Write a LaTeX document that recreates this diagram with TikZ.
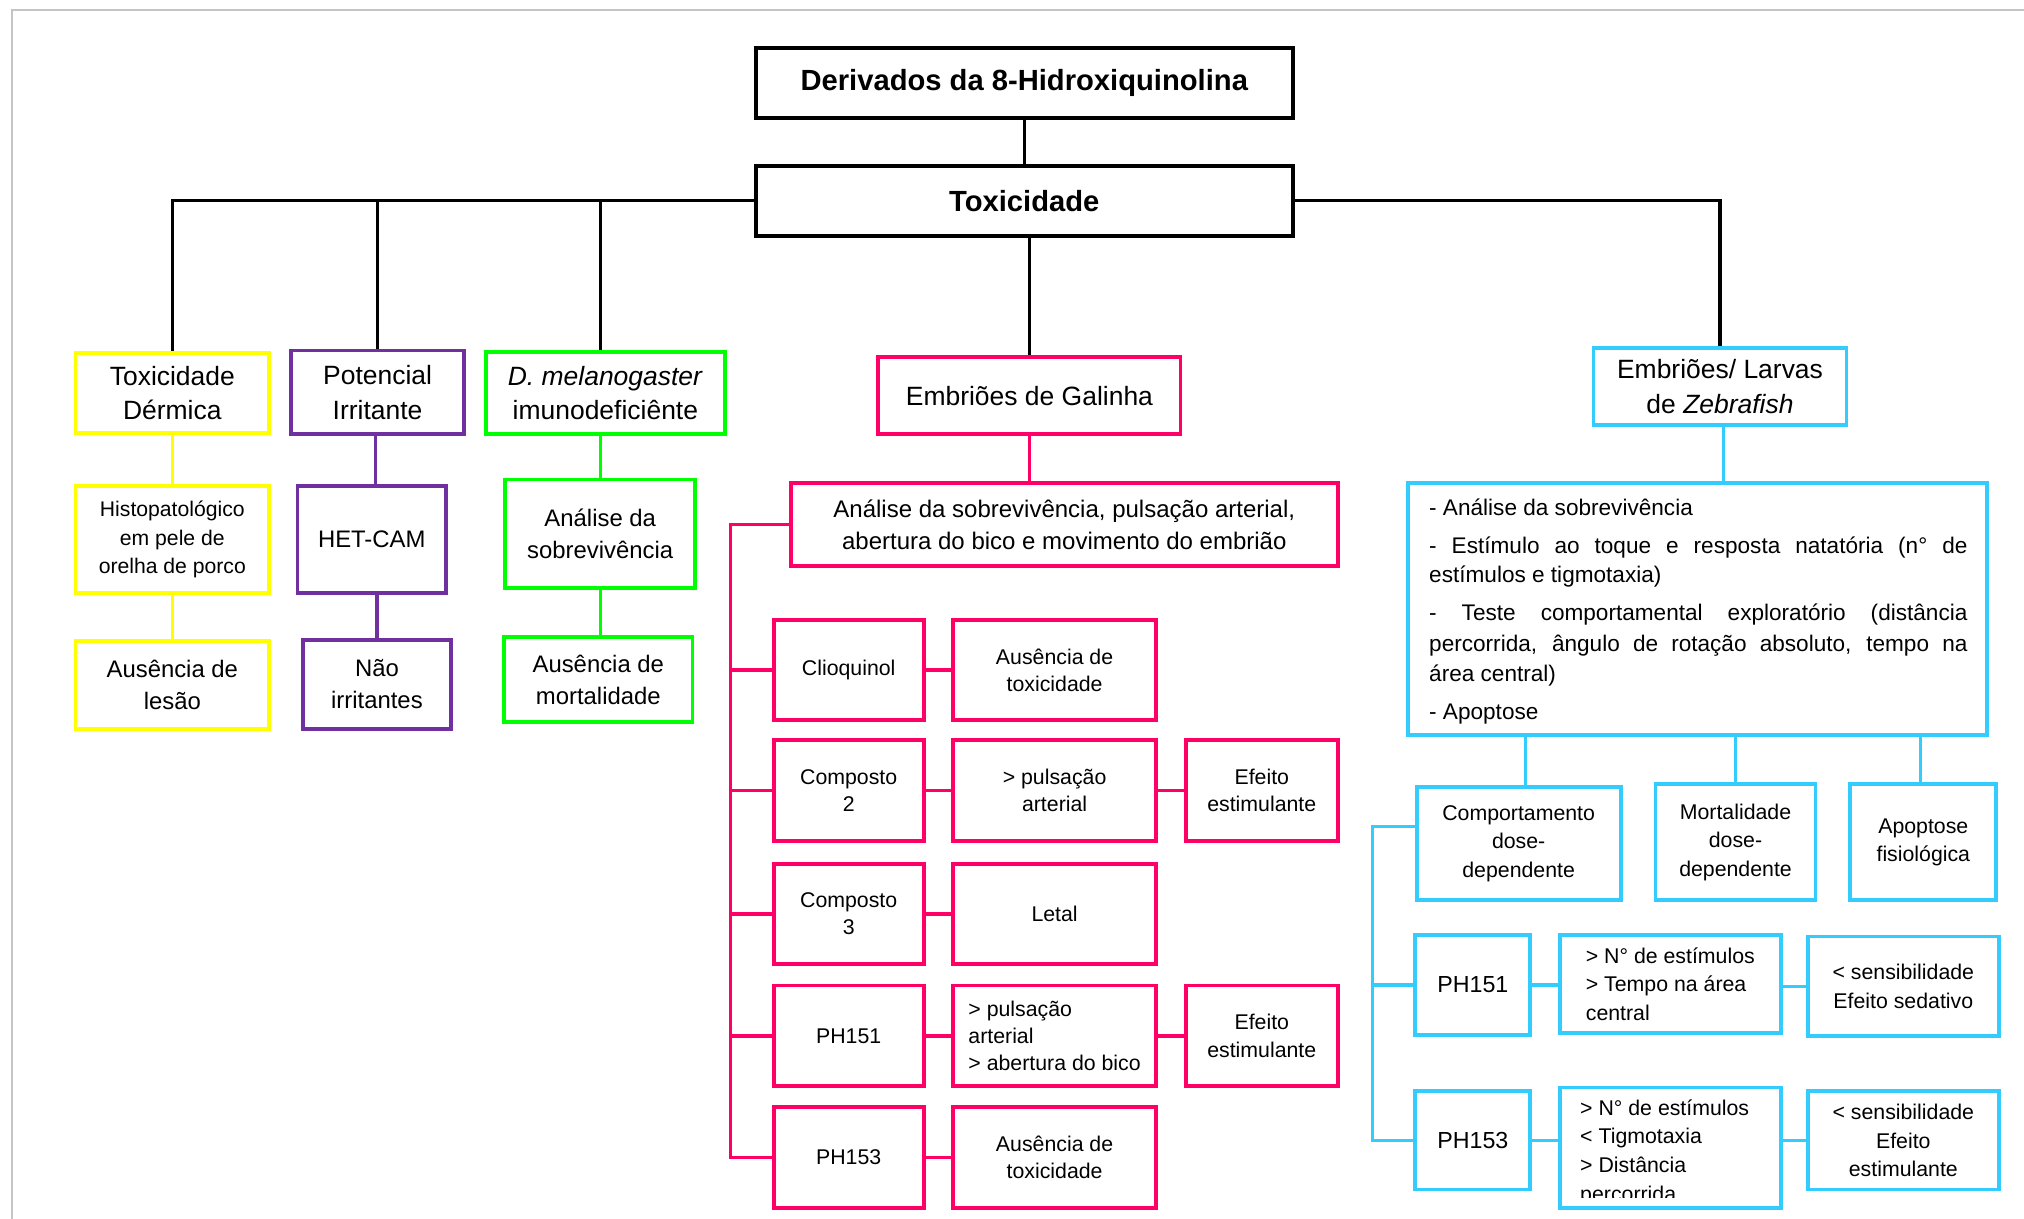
\documentclass[tikz,border=0pt]{standalone}
\usepackage{fontspec}
\setmainfont{Liberation Sans}
\newcommand{\fsz}[2]{\fontsize{#1pt}{#2pt}\selectfont}
\definecolor{cyel}{HTML}{FFFF00}
\definecolor{cpur}{HTML}{7030A0}
\definecolor{cgrn}{HTML}{00FF00}
\definecolor{cpnk}{HTML}{FF0066}
\definecolor{ccyn}{HTML}{33CCFF}
\definecolor{cgry}{HTML}{C4C4C4}
\begin{document}
\begin{tikzpicture}[x=1pt,y=-1pt,
  box/.style={draw, line width=3pt, inner sep=0pt, align=center},
  kbox/.style={box, draw=black, font=\fsz{22.6}{28}\bfseries},
  ybox/.style={box, draw=cyel},
  ubox/.style={box, draw=cpur},
  gbox/.style={box, draw=cgrn},
  pbox/.style={box, draw=cpnk, font=\fsz{16.5}{21}},
  cbox/.style={box, draw=ccyn, font=\fsz{16.5}{22}},
  lvone/.style={font=\fsz{20.5}{27}},
  lvtwo/.style={font=\fsz{18.5}{25}},
  conn/.style={line width=2.5pt},
  kconn/.style={conn, draw=black},
  yconn/.style={conn, draw=cyel},
  uconn/.style={conn, draw=cpur},
  gconn/.style={conn, draw=cgrn},
  pconn/.style={conn, draw=cpnk},
  cconn/.style={conn, draw=ccyn},
  ltxt/.style={anchor=base west, inner sep=0pt, font=\fsz{17.5}{23}},
  mtxt/.style={anchor=base west, inner sep=0pt, font=\fsz{16.5}{22}},
]
\useasboundingbox (0,0) rectangle (1568,944);
\draw[cgry, line width=1.5pt] (9,944) -- (9,8) -- (1568,8);

% top
\node[kbox, minimum width=416pt, minimum height=54pt] (der) at (793.5,64.5) {Derivados da 8-Hidroxiquinolina};
\node[kbox, minimum width=416pt, minimum height=54pt] (tox) at (793.5,155.5) {Toxicidade};

% yellow
\node[ybox, lvone, minimum width=150pt, minimum height=62pt] (td) at (133.5,304.5) {Toxicidade\\Dérmica};
\node[ybox, font=\fsz{16.4}{22}, minimum width=150pt, minimum height=83pt] (hist) at (133.5,418) {Histopatológico\\em pele de\\orelha de porco};
\node[ybox, lvtwo, minimum width=150pt, minimum height=68pt] (ausl) at (133.5,530.5) {Ausência de\\lesão};

% purple
\node[ubox, lvone, minimum width=134pt, minimum height=65pt] (pot) at (292.5,304) {Potencial\\Irritante};
\node[ubox, lvtwo, minimum width=115pt, minimum height=83pt] (het) at (288,418) {HET-CAM};
\node[ubox, lvtwo, minimum width=115pt, minimum height=69pt] (nao) at (292,530) {Não\\irritantes};

% green
\node[gbox, lvone, minimum width=185pt, minimum height=64pt] (dmel) at (469,304.5) {\textit{D. melanogaster}\\imunodeficiênte};
\node[gbox, lvtwo, minimum width=147pt, minimum height=84pt] (ana) at (465,413.5) {Análise da\\sobrevivência};
\node[gbox, lvtwo, minimum width=146pt, minimum height=66pt] (ausm) at (463.5,526.5) {Ausência de\\mortalidade};

% pink
\node[pbox, lvone, minimum width=234pt, minimum height=60pt] (emb) at (797.5,306.5) {Embriões de Galinha};
\node[pbox, font=\fsz{18.6}{25}, minimum width=424pt, minimum height=64pt] (anp) at (824.5,406.5) {Análise da sobrevivência, pulsação arterial,\\abertura do bico e movimento do embrião};

\node[pbox, minimum width=116pt, minimum height=77pt] (r1a) at (657.5,519) {Clioquinol};
\node[pbox, minimum width=157pt, minimum height=77pt] (r1b) at (817,519) {Ausência de\\toxicidade};

\node[pbox, minimum width=116pt, minimum height=78pt] (r2a) at (657.5,612.5) {Composto\\2};
\node[pbox, minimum width=157pt, minimum height=78pt] (r2b) at (817,612.5) {> pulsação\\arterial};
\node[pbox, minimum width=118pt, minimum height=78pt] (r2c) at (977.5,612.5) {Efeito\\estimulante};

\node[pbox, minimum width=116pt, minimum height=77pt] (r3a) at (657.5,708) {Composto\\3};
\node[pbox, minimum width=157pt, minimum height=77pt] (r3b) at (817,708) {Letal};

\node[pbox, minimum width=116pt, minimum height=78pt] (r4a) at (657.5,802.5) {PH151};
\node[pbox, align=left, minimum width=157pt, minimum height=78pt] (r4b) at (817,802.5) {> pulsação\\arterial\\> abertura do bico};
\node[pbox, minimum width=118pt, minimum height=78pt] (r4c) at (977.5,802.5) {Efeito\\estimulante};

\node[pbox, minimum width=116pt, minimum height=78pt] (r5a) at (657.5,896.5) {PH153};
\node[pbox, minimum width=157pt, minimum height=78pt] (r5b) at (817,896.5) {Ausência de\\toxicidade};

% cyan
\node[cbox, lvone, minimum width=196pt, minimum height=60pt] (zeb) at (1332.5,299.5) {Embriões/ Larvas\\de \textit{Zebrafish}};
\node[cbox, minimum width=449pt, minimum height=195pt] (list) at (1315,472) {};
\node[ltxt] (l1) at (1107,399.6) {- Análise da sobrevivência};
\node[ltxt] (l2) at (1107,428.5) {\makebox[417pt][s]{- Estímulo ao toque e resposta natatória (n° de}};
\node[ltxt] (l3) at (1107,451.2) {estímulos e tigmotaxia)};
\node[ltxt] (l4) at (1107,481) {\makebox[417pt][s]{- Teste comportamental exploratório (distância}};
\node[ltxt] (l5) at (1107,504.5) {\makebox[417pt][s]{percorrida, ângulo de rotação absoluto, tempo na}};
\node[ltxt] (l6) at (1107,527.8) {área central)};
\node[ltxt] (l7) at (1107,557.5) {- Apoptose};

\node[cbox, minimum width=158pt, minimum height=88pt] (comp) at (1176.5,653.5) {Comportamento\\dose-\\dependente};
\node[cbox, minimum width=124pt, minimum height=90pt] (mort) at (1344.5,652.5) {Mortalidade\\dose-\\dependente};
\node[cbox, minimum width=113pt, minimum height=90pt] (apo) at (1490,652.5) {Apoptose\\fisiológica};

\node[cbox, font=\fsz{18}{22}, minimum width=89pt, minimum height=77pt] (p151) at (1141,763) {PH151};
\node[cbox, align=left, minimum width=171pt, minimum height=76pt] (m151) at (1294,762.5) {> N° de estímulos\\> Tempo na área\\central};
\node[cbox, minimum width=148pt, minimum height=77pt] (r151) at (1474.5,764) {< sensibilidade\\Efeito sedativo};

\node[cbox, font=\fsz{18}{22}, minimum width=89pt, minimum height=76pt] (p153) at (1141,883.5) {PH153};
\node[cbox, minimum width=171pt, minimum height=93pt] (m153) at (1294,889) {};
\begin{scope}
\clip (1210,843) rectangle (1378,928);
\node[mtxt] (m153a) at (1224,864) {> N° de estímulos};
\node[mtxt] (m153b) at (1224,886) {< Tigmotaxia};
\node[mtxt] (m153c) at (1224,908) {> Distância};
\node[mtxt] (m153d) at (1224,930.5) {percorrida};
\end{scope}
\node[cbox, minimum width=148pt, minimum height=76pt] (r153) at (1474.5,883.5) {< sensibilidade\\Efeito\\estimulante};

% black connectors
\draw[kconn] (der.south) -- (tox.north);
\draw[kconn] (tox.west) -| (td.north);
\draw[kconn] (tox.west) -| (pot.north);
\draw[kconn] ([xshift=-4pt]tox.west) -| ([xshift=-4pt]dmel.north);
\draw[kconn] (tox.south -| emb.north) -- (emb.north);
\draw[kconn] (tox.east) -| (zeb.north);

% yellow
\draw[yconn] (td.south) -- (hist.north);
\draw[yconn] (hist.south) -- (ausl.north);
% purple
\draw[uconn] ([xshift=-1.5pt]pot.south) -- ([xshift=-1.5pt]pot.south |- het.north);
\draw[uconn] (nao.north |- het.south) -- (nao.north);
% green
\draw[gconn] (ana.north |- dmel.south) -- (ana.north);
\draw[gconn] (ana.south) -- (ana.south |- ausm.north);

% pink
\coordinate (pt) at (566,406.5);
\draw[pconn] (emb.south) -- (emb.south |- anp.north);
\draw[pconn] (anp.west) -- (pt) |- (r5a.west);
\draw[pconn] (r1a.west -| pt) -- (r1a.west);
\draw[pconn] (r2a.west -| pt) -- (r2a.west);
\draw[pconn] (r3a.west -| pt) -- (r3a.west);
\draw[pconn] (r4a.west -| pt) -- (r4a.west);
\draw[pconn] (r1a.east) -- (r1b.west);
\draw[pconn] (r2a.east) -- (r2b.west);
\draw[pconn] (r2b.east) -- (r2c.west);
\draw[pconn] (r3a.east) -- (r3b.west);
\draw[pconn] (r4a.east) -- (r4b.west);
\draw[pconn] (r4b.east) -- (r4c.west);
\draw[pconn] (r5a.east) -- (r5b.west);

% cyan
\coordinate (zt) at (1063,640);
\draw[cconn] ([xshift=2.5pt]zeb.south) -- ([xshift=2.5pt]zeb.south |- list.north);
\draw[cconn] ([xshift=5.5pt]comp.north |- list.south) -- ([xshift=5.5pt]comp.north);
\draw[cconn] (mort.north |- list.south) -- (mort.north);
\draw[cconn] ([xshift=-2pt]apo.north |- list.south) -- ([xshift=-2pt]apo.north);
\draw[cconn] (comp.west |- zt) -- (zt) |- (p153.west);
\draw[cconn] (p151.west -| zt) -- (p151.west);
\draw[cconn] (p151.east) -- (m151.west |- p151.east);
\draw[cconn] (m151.east |- r151.west) -- (r151.west);
\draw[cconn] (p153.east) -- (m153.west |- p153.east);
\draw[cconn] ([xshift=-3pt]m153.east |- r153.west) -- (r153.west);
\end{tikzpicture}
\end{document}
